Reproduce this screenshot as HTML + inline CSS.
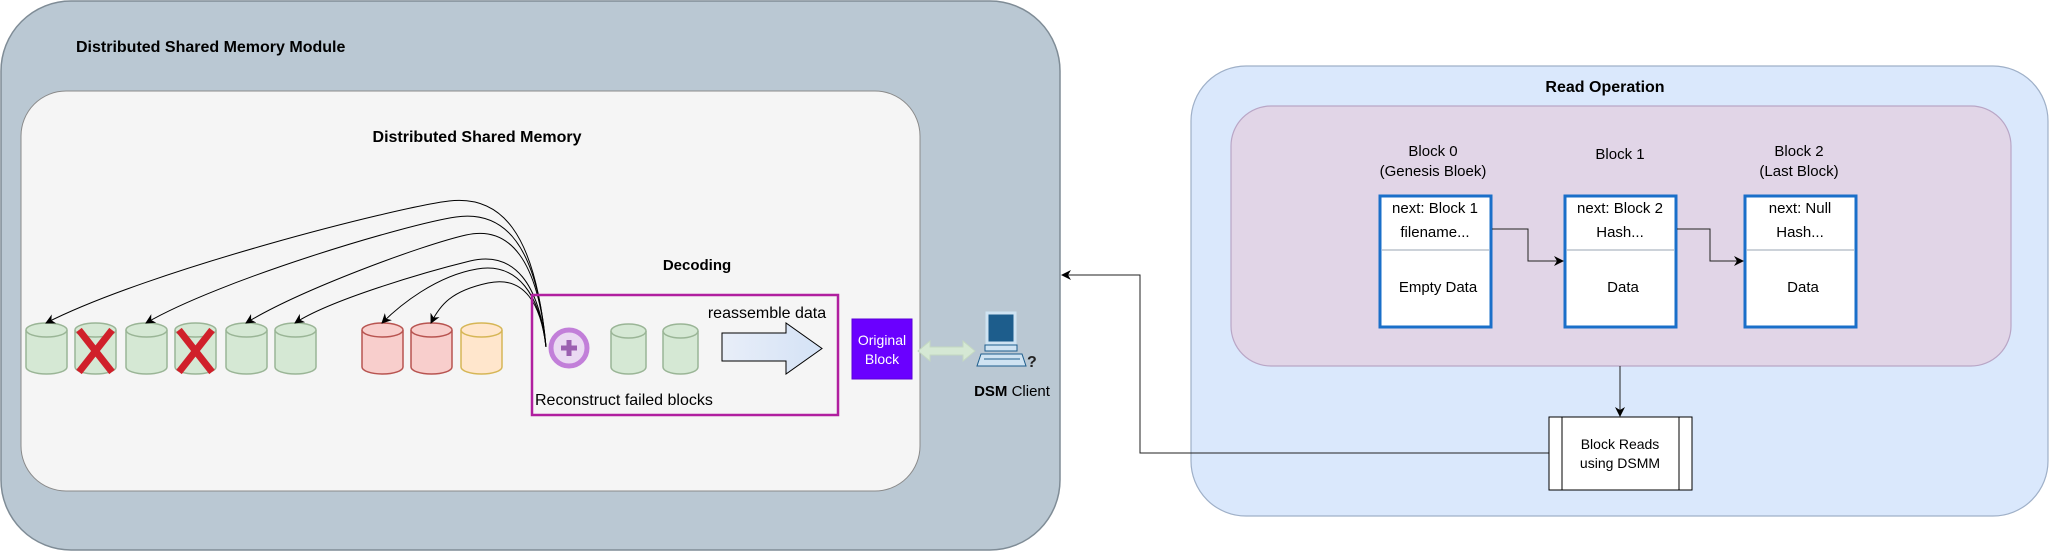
<!DOCTYPE html>
<html><head><meta charset="utf-8"><style>
html,body{margin:0;padding:0;background:#fff;}
svg{display:block;font-family:"Liberation Sans",Arial,sans-serif;}
</style></head><body>
<svg width="2051" height="552" viewBox="0 0 2051 552" xmlns="http://www.w3.org/2000/svg">
<defs>
<marker id="ah" markerWidth="10" markerHeight="10" refX="9" refY="5" orient="auto" markerUnits="userSpaceOnUse"><path d="M0,0 L10,5 L0,10 L3,5 z" fill="#000"/></marker>
<linearGradient id="ag" x1="0" x2="1"><stop offset="0" stop-color="#e8eef8"/><stop offset="1" stop-color="#d4e2f6"/></linearGradient>
</defs>
<!-- left outer -->
<rect x="1" y="1" width="1059" height="549" rx="70" ry="70" fill="#bac8d3" stroke="#7f8c96" stroke-width="1.5"/>
<text x="76" y="52" font-size="16" font-weight="bold">Distributed Shared Memory Module</text>
<rect x="21" y="91" width="899" height="400" rx="45" ry="45" fill="#f5f5f5" stroke="#8a8a8a" stroke-width="1"/>
<text x="477" y="142" font-size="16" font-weight="bold" text-anchor="middle">Distributed Shared Memory</text>
<text x="697" y="270" font-size="15" font-weight="bold" text-anchor="middle">Decoding</text>

<!-- cylinders -->
<g stroke-width="1.5">
<g fill="#d5e8d4" stroke="#9ab596">
<path d="M26,330 v37 a20.5,7 0 0 0 41,0 v-37"/><ellipse cx="46.5" cy="330" rx="20.5" ry="7"/>
<path d="M75,330 v37 a20.5,7 0 0 0 41,0 v-37"/><ellipse cx="95.5" cy="330" rx="20.5" ry="7"/>
<path d="M126,330 v37 a20.5,7 0 0 0 41,0 v-37"/><ellipse cx="146.5" cy="330" rx="20.5" ry="7"/>
<path d="M175,330 v37 a20.5,7 0 0 0 41,0 v-37"/><ellipse cx="195.5" cy="330" rx="20.5" ry="7"/>
<path d="M226,330 v37 a20.5,7 0 0 0 41,0 v-37"/><ellipse cx="246.5" cy="330" rx="20.5" ry="7"/>
<path d="M275,330 v37 a20.5,7 0 0 0 41,0 v-37"/><ellipse cx="295.5" cy="330" rx="20.5" ry="7"/>
<path d="M611,331 v36 a17.5,7 0 0 0 35,0 v-36"/><ellipse cx="628.5" cy="331" rx="17.5" ry="7"/>
<path d="M663,331 v36 a17.5,7 0 0 0 35,0 v-36"/><ellipse cx="680.5" cy="331" rx="17.5" ry="7"/>
</g>
<g fill="#f8cecc" stroke="#b85450">
<path d="M362,330 v37 a20.5,7 0 0 0 41,0 v-37"/><ellipse cx="382.5" cy="330" rx="20.5" ry="7"/>
<path d="M411,330 v37 a20.5,7 0 0 0 41,0 v-37"/><ellipse cx="431.5" cy="330" rx="20.5" ry="7"/>
</g>
<g fill="#ffe6cc" stroke="#d6b656">
<path d="M461,330 v37 a20.5,7 0 0 0 41,0 v-37"/><ellipse cx="481.5" cy="330" rx="20.5" ry="7"/>
</g>
</g>
<!-- X marks -->
<g stroke="#d0202a" stroke-width="7" stroke-linecap="butt">
<line x1="79" y1="330" x2="112" y2="372"/><line x1="112" y1="330" x2="79" y2="372"/>
<line x1="179" y1="330" x2="212" y2="372"/><line x1="212" y1="330" x2="179" y2="372"/>
</g>

<!-- arcs -->
<g fill="none" stroke="#000" stroke-width="1" marker-end="url(#ah)">
<path d="M546,347 C535,230 500,195 449,201 S150,270 46,323"/>
<path d="M546,347 C537,245 505,210 456,217 S220,280 146,323"/>
<path d="M546,347 C538,260 510,225 466,235 S300,290 246,323"/>
<path d="M546,347 C539,285 515,250 470,261 S330,300 295,323"/>
<path d="M546,347 C540,295 518,262 477,269 S400,305 382,323"/>
<path d="M546,347 C541,305 525,275 488,283 S440,305 431,323"/>
</g>

<!-- decoding box -->
<rect x="532" y="295" width="306" height="120" fill="none" stroke="#b01f9f" stroke-width="2.5"/>
<circle cx="569" cy="348" r="18" fill="#ead9f2" stroke="#c27fd9" stroke-width="5"/>
<path d="M569,340 v16 M561,348 h16" stroke="#9b5fb0" stroke-width="5"/>
<text x="767" y="318" font-size="16" text-anchor="middle">reassemble data</text>
<path d="M722,333 H786 V323 L822,348.5 L786,374 V361 H722 Z" fill="url(#ag)" stroke="#000" stroke-width="1"/>
<text x="535" y="405" font-size="16">Reconstruct failed blocks</text>
<rect x="852" y="319" width="60" height="60" fill="#6a00ff" stroke="#5a00d8"/>
<text x="882" y="345" font-size="14" fill="#fff" text-anchor="middle">Original</text>
<text x="882" y="364" font-size="14" fill="#fff" text-anchor="middle">Block</text>
<!-- double arrow -->
<path d="M918,351 L930,341 V347 H963 V341 L975,351 L963,361 V355 H930 V361 Z" fill="#d5e8d4" stroke="#c4d8c2"/>
<!-- computer -->
<g>
<rect x="987" y="313" width="28" height="30" fill="#1d5d8c" stroke="#cfe3f2" stroke-width="3"/>
<rect x="985" y="345" width="32" height="6" fill="#cfe3f2" stroke="#1d5d8c" stroke-width="1"/>
<path d="M981,354 L1022,354 L1026,366 L977,366 Z" fill="#cfe3f2" stroke="#1d5d8c" stroke-width="1"/>
<line x1="984" y1="359" x2="1020" y2="359" stroke="#1d5d8c"/>
<text x="1027" y="367" font-size="16" font-weight="bold" fill="#222">?</text>
</g>
<text x="1012" y="396" font-size="15" text-anchor="middle"><tspan font-weight="bold">DSM</tspan> Client</text>

<!-- right box -->
<rect x="1191" y="66" width="857" height="450" rx="55" ry="55" fill="#dae8fc" stroke="#9fb0c8" stroke-width="1.2"/>
<text x="1605" y="92" font-size="16" font-weight="bold" text-anchor="middle">Read Operation</text>
<rect x="1231" y="106" width="780" height="260" rx="40" ry="40" fill="#e1d5e7" stroke="#b9a6c6" stroke-width="1.2"/>

<g font-size="15" text-anchor="middle">
<text x="1433" y="156">Block 0</text><text x="1433" y="176">(Genesis Bloek)</text>
<text x="1620" y="159">Block 1</text>
<text x="1799" y="156">Block 2</text><text x="1799" y="176">(Last Block)</text>
</g>
<g stroke="#1a6fc9" stroke-width="3" fill="#fff">
<rect x="1380" y="196" width="111" height="131"/>
<rect x="1565" y="196" width="111" height="131"/>
<rect x="1745" y="196" width="111" height="131"/>
</g>
<g stroke="#9aa6b3" stroke-width="1">
<line x1="1382" y1="250" x2="1489" y2="250"/>
<line x1="1567" y1="250" x2="1674" y2="250"/>
<line x1="1747" y1="250" x2="1854" y2="250"/>
</g>
<g font-size="15" text-anchor="middle">
<text x="1435" y="213">next: Block 1</text><text x="1435" y="237">filename...</text><text x="1438" y="292">Empty Data</text>
<text x="1620" y="213">next: Block 2</text><text x="1620" y="237">Hash...</text><text x="1623" y="292">Data</text>
<text x="1800" y="213">next: Null</text><text x="1800" y="237">Hash...</text><text x="1803" y="292">Data</text>
</g>
<g fill="none" stroke="#222" stroke-width="1" marker-end="url(#ah)">
<path d="M1492,229 H1528 V261 H1563"/>
<path d="M1677,229 H1710 V261 H1743"/>
<path d="M1620,366 V416"/>
<path d="M1549,453 H1140 V275 H1062"/>
</g>
<rect x="1549" y="417" width="143" height="73" fill="#fff" stroke="#000" stroke-width="1"/>
<line x1="1562" y1="417" x2="1562" y2="490" stroke="#000"/>
<line x1="1679" y1="417" x2="1679" y2="490" stroke="#000"/>
<text x="1620" y="449" font-size="14" text-anchor="middle">Block Reads</text>
<text x="1620" y="468" font-size="14" text-anchor="middle">using DSMM</text>
</svg>
</body></html>
